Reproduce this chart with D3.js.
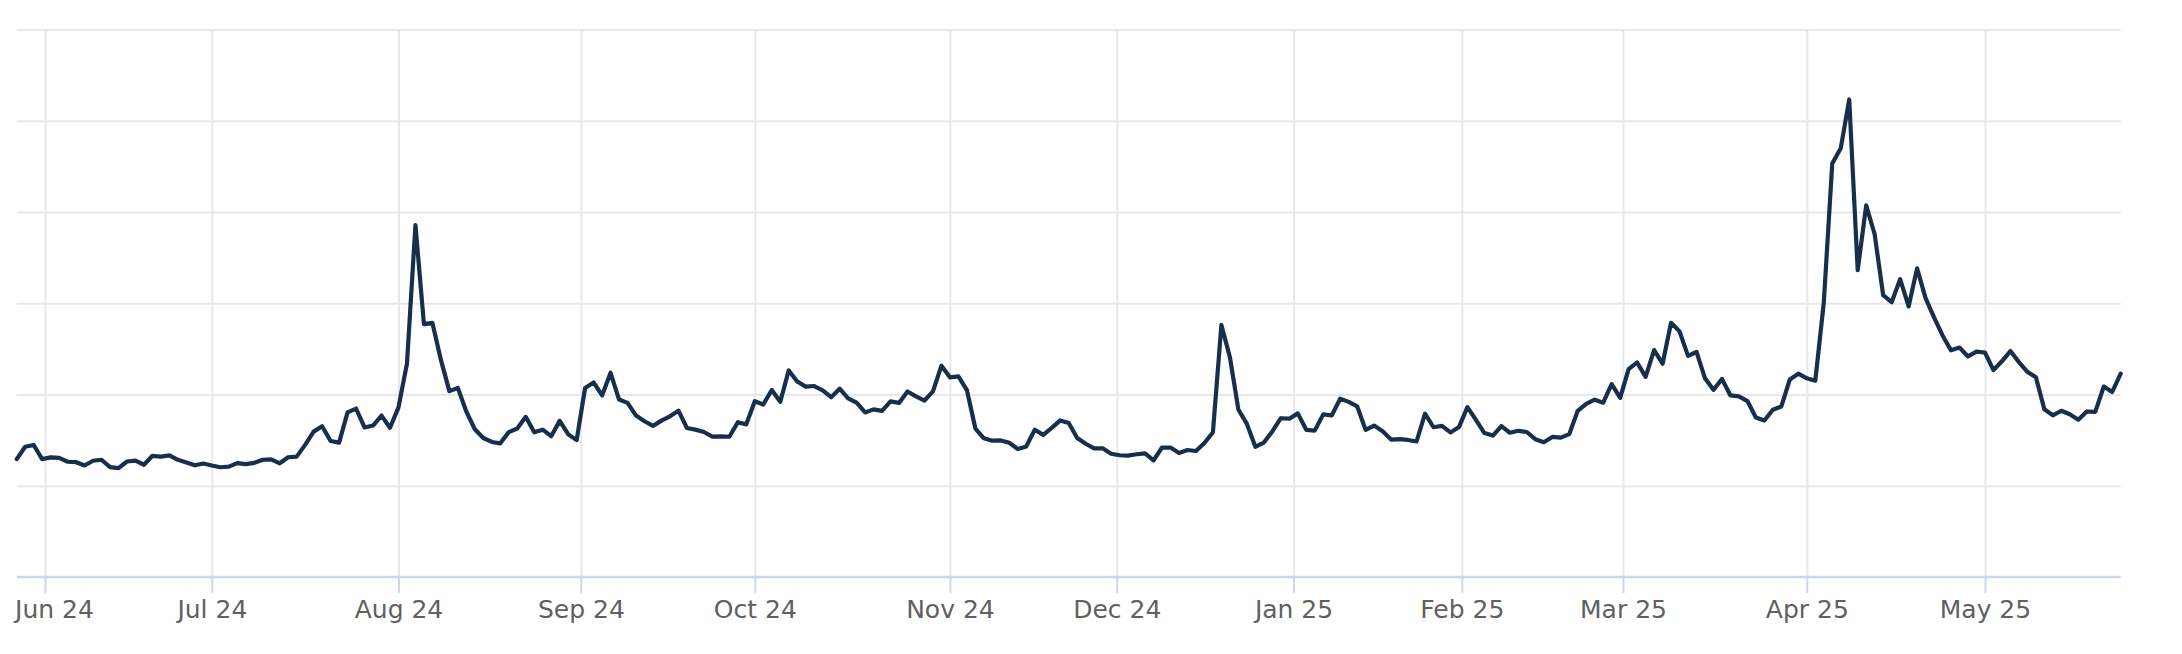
<!DOCTYPE html>
<html>
<head>
<meta charset="utf-8">
<script src="https://cdn.jsdelivr.net/npm/d3@7"></script>
<style>
  html, body { margin: 0; padding: 0; background: #ffffff; }
  svg { display: block; }
</style>
</head>
<body>
<svg id="chart" width="2182" height="654"></svg>
<script>
// ---------------- DATA ----------------
const startDate = "2024-05-28";
const endDate = "2025-05-23";
const marketHolidays = ["2024-06-19", "2024-07-04", "2024-09-02", "2024-11-28", "2024-12-25",
  "2025-01-01", "2025-01-09", "2025-01-20", "2025-02-17", "2025-04-18"];

// daily closing values, one per trading day
const seriesValues = [
  12.92, 14.28, 14.47, 12.92,
  13.11, 13.06, 12.63, 12.58, 12.22, 12.74, 12.85, 12.04, 11.94, 12.66, 12.75, 12.30, 13.28, 13.20, 13.33, 12.84, 12.55, 12.24, 12.44,
  12.22, 12.03, 12.09, 12.48, 12.37, 12.51, 12.85, 12.89, 12.46, 13.12, 13.19, 14.48, 15.93, 16.52, 14.91, 14.72, 18.04, 18.46, 16.39, 16.60, 17.69, 16.36,
  18.59, 23.39, 38.57, 27.71, 27.85, 23.79, 20.37, 20.71, 18.12, 16.19, 15.23, 14.80, 14.65, 15.88, 16.27, 17.55, 15.86, 16.15, 15.43, 17.11, 15.65, 15.00,
  20.72, 21.32, 19.90, 22.38, 19.45, 19.08, 17.69, 17.07, 16.56, 17.14, 17.61, 18.23, 16.33, 16.15, 15.89, 15.39, 15.41, 15.37, 16.96, 16.73,
  19.26, 18.90, 20.49, 19.21, 22.64, 21.42, 20.86, 20.93, 20.46, 19.70, 20.64, 19.58, 19.11, 18.03, 18.37, 18.20, 19.24, 19.08, 20.33, 19.80, 19.34, 20.35, 23.16,
  21.88, 21.98, 20.49, 16.27, 15.20, 14.94, 14.97, 14.71, 14.02, 14.31, 16.14, 15.58, 16.35, 17.16, 16.87, 15.24, 14.60, 14.10, 14.10, 13.51,
  13.34, 13.30, 13.45, 13.54, 12.77, 14.19, 14.18, 13.58, 13.92, 13.81, 14.69, 15.87, 27.62, 24.09, 18.36, 16.78, 14.27, 14.73, 15.95, 17.40, 17.35,
  17.93, 16.13, 16.04, 17.82, 17.70, 19.54, 19.19, 18.71, 16.12, 16.60, 15.97, 15.06, 15.10, 15.02, 14.85, 17.90, 16.41, 16.56, 15.84, 16.43,
  18.62, 17.21, 15.77, 15.50, 16.54, 15.81, 16.02, 15.89, 15.10, 14.77, 15.35, 15.27, 15.66, 18.21, 18.98, 19.43, 19.10, 21.13, 19.63,
  22.78, 23.51, 21.93, 24.87, 23.37, 27.86, 26.92, 24.23, 24.66, 21.77, 20.51, 21.70, 19.90, 19.80, 19.28, 17.48, 17.15, 18.33, 18.69, 21.65, 22.28,
  21.77, 21.51, 30.02, 45.31, 46.98, 52.33, 33.62, 40.72, 37.56, 30.89, 30.12, 32.64, 29.65, 33.82, 30.57, 28.45, 26.47, 24.84, 25.15, 24.17, 24.70,
  24.60, 22.68, 23.64, 24.76, 23.55, 22.48, 21.90, 18.39, 17.72, 18.22, 17.83, 17.24, 18.14, 18.09, 20.87, 20.28, 22.29
];

const tickMonths = ["2024-06-01", "2024-07-01", "2024-08-01", "2024-09-01", "2024-10-01", "2024-11-01",
  "2024-12-01", "2025-01-01", "2025-02-01", "2025-03-01", "2025-04-01", "2025-05-01"];
const tickLabels = ["Jun 24", "Jul 24", "Aug 24", "Sep 24", "Oct 24", "Nov 24",
  "Dec 24", "Jan 25", "Feb 25", "Mar 25", "Apr 25", "May 25"];
const yGridValues = [10, 20, 30, 40, 50, 60];
const yDomain = [0, 60];

// ---------------- LAYOUT ----------------
const plotLeft = 16.7, plotRight = 2120.7, plotTop = 29.5, plotBottom = 577;
const lineColor = "#172f4c";

const parse = d3.utcParse("%Y-%m-%d");
const fmt = d3.utcFormat("%Y-%m-%d");
const holidaySet = new Set(marketHolidays);
const tradingDates = d3.utcDays(parse(startDate), d3.utcDay.offset(parse(endDate), 1))
  .filter(d => d.getUTCDay() !== 0 && d.getUTCDay() !== 6 && !holidaySet.has(fmt(d)));

const n = Math.min(tradingDates.length, seriesValues.length);

// ordinal (trading-day) x scale
const x = d3.scaleLinear().domain([0, n - 1]).range([plotLeft, plotRight]);
const y = d3.scaleLinear().domain(yDomain).range([plotBottom, plotTop]);

// fractional trading-day index for a calendar date
function ordinalIndex(date) {
  const t = +date;
  const i = d3.bisectLeft(tradingDates.map(d => +d), t);
  if (i < tradingDates.length && +tradingDates[i] === t) return i;
  if (i === 0) return 0;
  const a = +tradingDates[i - 1], b = +tradingDates[i];
  return (i - 1) + (t - a) / (b - a);
}
const tickPositions = tickMonths.map(s => ordinalIndex(parse(s)));

const svg = d3.select("#chart");
svg.append("rect").attr("width", 2182).attr("height", 654).attr("fill", "#ffffff");

// horizontal gridlines
const yGrid = svg.append("g")
  .attr("transform", `translate(${plotLeft},0)`)
  .call(d3.axisLeft(y).tickValues(yGridValues).tickSize(-(plotRight - plotLeft)).tickFormat(""));
yGrid.select(".domain").remove();
yGrid.selectAll(".tick line").attr("stroke", "#e8e8e8").attr("stroke-width", 2);

// vertical gridlines
const xGrid = svg.append("g")
  .attr("transform", `translate(0,${plotBottom})`)
  .call(d3.axisBottom(x).tickValues(tickPositions).tickSize(-(plotBottom - plotTop)).tickFormat(""));
xGrid.select(".domain").remove();
xGrid.selectAll(".tick line").attr("stroke", "#e6e8ec").attr("stroke-width", 2);

// x axis
const xAxis = svg.append("g")
  .attr("transform", `translate(0,${plotBottom})`)
  .call(d3.axisBottom(x).tickValues(tickPositions)
    .tickFormat((d, i) => tickLabels[i]).tickSizeInner(16).tickSizeOuter(0));
xAxis.select(".domain")
  .attr("d", `M${plotLeft},0H${plotRight}`)
  .attr("stroke", "#ccd6eb").attr("stroke-width", 2.5);
xAxis.selectAll(".tick line").attr("stroke", "#ccd6eb").attr("stroke-width", 2);
xAxis.selectAll(".tick text")
  .attr("y", 41).attr("dy", null)
  .attr("fill", "#606060")
  .style("font-family", "'DejaVu Sans', sans-serif")
  .style("font-size", "25px");
// keep the first label inside the chart area
xAxis.selectAll(".tick").each(function () {
  const g = d3.select(this);
  const tx = +g.attr("transform").match(/translate\(([-\d.]+)/)[1];
  const txt = g.select("text");
  const w = txt.node().getComputedTextLength();
  if (tx - w / 2 < 15) {
    txt.attr("text-anchor", "start").attr("x", 15 - tx);
  }
});

// data line
const line = d3.line()
  .x((d, i) => x(i))
  .y(d => y(d));
svg.append("path")
  .datum(seriesValues.slice(0, n))
  .attr("fill", "none")
  .attr("stroke", lineColor)
  .attr("stroke-width", 4.2)
  .attr("stroke-linejoin", "round")
  .attr("stroke-linecap", "round")
  .attr("d", line);
</script>
</body>
</html>
